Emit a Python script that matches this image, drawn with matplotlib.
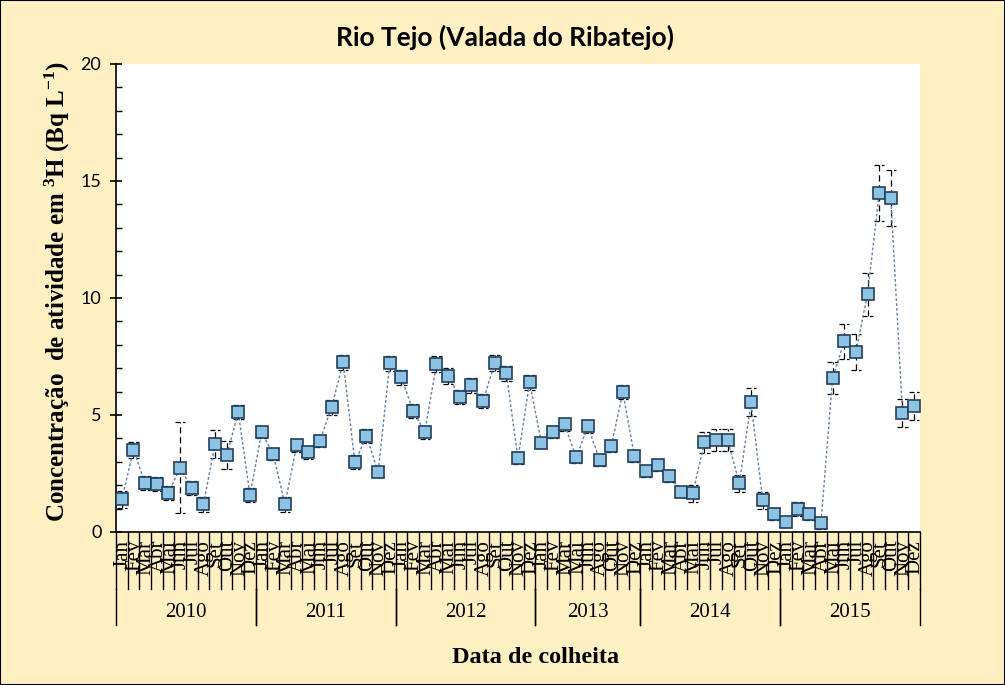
import numpy as np
import matplotlib
matplotlib.use("Agg")
import matplotlib.pyplot as plt
from matplotlib.transforms import blended_transform_factory
from matplotlib.patches import Rectangle

# meses de colheita por ano (2013 com 9 colheitas)
years = ["2010", "2011", "2012", "2013", "2014", "2015"]
months_2010 = ["Jan", "Fev", "Mar", "Abr", "Mai", "Jun", "Jul", "Ago", "Set", "Out", "Nov", "Dez"]
months_2011 = ["Jan", "Fev", "Mar", "Abr", "Mai", "Jun", "Jul", "Ago", "Set", "Out", "Nov", "Dez"]
months_2012 = ["Jan", "Fev", "Mar", "Abr", "Mai", "Jun", "Jul", "Ago", "Set", "Out", "Nov", "Dez"]
months_2013 = ["Jan", "Fev", "Mar", "Mai", "Jun", "Ago", "Out", "Nov", "Dez"]
months_2014 = ["Jan", "Fev", "Mar", "Abr", "Mai", "Jun", "Jul", "Ago", "Set", "Out", "Nov", "Dez"]
months_2015 = ["Jan", "Fev", "Mar", "Abr", "Mai", "Jun", "Jul", "Ago", "Set", "Out", "Nov", "Dez"]

# concentracao de 3H (Bq/L)
h3_2010 = [1.40, 3.50, 2.08, 2.04, 1.65, 2.75, 1.88, 1.18, 3.75, 3.28, 5.11, 1.57]
h3_2011 = [4.26, 3.32, 1.18, 3.70, 3.40, 3.89, 5.33, 7.25, 2.98, 4.09, 2.56, 7.21]
h3_2012 = [6.61, 5.16, 4.27, 7.17, 6.67, 5.76, 6.28, 5.60, 7.21, 6.78, 3.15, 6.40]
h3_2013 = [3.82, 4.26, 4.60, 3.19, 4.52, 3.08, 3.66, 5.97, 3.23]
h3_2014 = [2.59, 2.85, 2.39, 1.72, 1.65, 3.83, 3.92, 3.92, 2.08, 5.54, 1.35, 0.77]
h3_2015 = [0.43, 0.97, 0.77, 0.37, 6.57, 8.15, 7.69, 10.16, 14.47, 14.26, 5.07, 5.37]

# incertezas
err_2010 = [0.36, 0.35, 0.30, 0.30, 0.30, 1.95, 0.30, 0.33, 0.60, 0.60, 0.30, 0.30]
err_2011 = [0.26, 0.25, 0.32, 0.29, 0.29, 0.26, 0.31, 0.33, 0.30, 0.30, 0.23, 0.31]
err_2012 = [0.32, 0.30, 0.28, 0.35, 0.33, 0.30, 0.32, 0.30, 0.35, 0.33, 0.25, 0.32]
err_2013 = [0.25, 0.25, 0.27, 0.25, 0.27, 0.24, 0.26, 0.30, 0.25]
err_2014 = [0.25, 0.24, 0.24, 0.22, 0.35, 0.46, 0.47, 0.47, 0.36, 0.60, 0.36, 0.25]
err_2015 = [0.22, 0.30, 0.25, 0.24, 0.68, 0.75, 0.76, 0.92, 1.20, 1.20, 0.60, 0.60]

month_groups = [months_2010, months_2011, months_2012, months_2013, months_2014, months_2015]
values = np.array(h3_2010 + h3_2011 + h3_2012 + h3_2013 + h3_2014 + h3_2015)
errors = np.array(err_2010 + err_2011 + err_2012 + err_2013 + err_2014 + err_2015)
labels = sum(month_groups, [])
x = np.arange(len(values))

bg = "#FFF0C4"
serif = "Liberation Serif"
plt.rcParams["mathtext.fontset"] = "custom"
plt.rcParams["mathtext.rm"] = "Liberation Serif:bold"
plt.rcParams["mathtext.it"] = "Liberation Serif:bold"
plt.rcParams["mathtext.bf"] = "Liberation Serif:bold"

fig = plt.figure(figsize=(10.05, 6.85), dpi=100, facecolor=bg)
ax = fig.add_axes([0.1154, 0.2234, 0.80, 0.6832])
ax.set_facecolor("white")

# barras de incerteza tracejadas
ax.vlines(x, values - errors, values + errors, colors="black", linewidth=0.9,
          linestyles=(0, (5, 3)), zorder=2)
for sgn in (-1, 1):
    ax.hlines(values + sgn * errors, x - 0.45, x + 0.45, colors="black",
              linewidth=0.9, linestyles=(0, (4, 2)), zorder=2)

ax.plot(x, values, linestyle=(0, (2, 1.5)), color="#6581A8", linewidth=1.0,
        marker="s", markersize=8.5, markerfacecolor="#8DC4E4",
        markeredgecolor="#23405F", markeredgewidth=1.2, zorder=3)

ax.set_xlim(-0.5, len(values) - 0.5)
ax.set_ylim(0, 20)
ax.set_yticks([0, 5, 10, 15, 20])
ax.set_yticks(np.arange(0, 21, 1), minor=True)
ax.tick_params(axis="y", which="major", direction="inout", length=9, width=1.2,
               labelsize=13, pad=6)
ax.tick_params(axis="y", which="minor", direction="in", length=4, width=1)
for lab in ax.get_yticklabels():
    lab.set_fontfamily("Lato")
ax.set_xticks([])
ax.spines["top"].set_visible(False)
ax.spines["right"].set_visible(False)
ax.spines["left"].set_linewidth(1.2)
ax.spines["bottom"].set_linewidth(1.2)

# eixo de categorias com dois niveis (mes / ano)
trans = blended_transform_factory(ax.transData, ax.transAxes)
for b in np.arange(len(values) + 1) - 0.5:
    ax.plot([b, b], [0, -0.122], transform=trans, color="black", linewidth=1,
            clip_on=False)
for xi, lab in zip(x, labels):
    ax.text(xi + 0.1, -0.017, lab, transform=trans, rotation=90, ha="center",
            va="top", fontsize=15, fontfamily=serif)

start = 0
for yr, grp in zip(years, month_groups):
    end = start + len(grp)
    for b in (start - 0.5, end - 0.5):
        ax.plot([b, b], [-0.122, -0.199], transform=trans, color="black",
                linewidth=1, clip_on=False)
    ax.text((start + end - 1) / 2, -0.172, yr, transform=trans, ha="center",
            va="center", fontsize=15, fontfamily=serif)
    start = end

fig.text(0.502, 0.946, "Rio Tejo (Valada do Ribatejo)", ha="center", va="center",
         fontsize=19, fontweight="bold", fontfamily="Lato")
fig.text(0.057, 0.574, r"Concentração  de atividade em $^{3}$H (Bq L$^{-1}$)",
         rotation=90, ha="center", va="center", fontsize=18,
         fontweight="bold", fontfamily=serif)
fig.text(0.533, 0.04, "Data de colheita", ha="center", va="center",
         fontsize=17.5, fontweight="bold", fontfamily=serif)

fig.patches.append(Rectangle((0, 0), 1, 1, transform=fig.transFigure,
                             fill=False, edgecolor="black", linewidth=1.5))

fig.savefig("out.png", dpi=100, facecolor=bg)
